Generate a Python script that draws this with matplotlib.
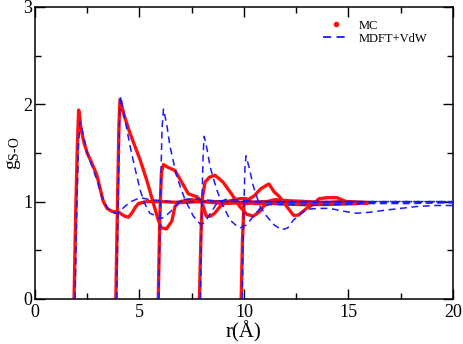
import matplotlib
matplotlib.use('Agg')
from matplotlib import pyplot as plt
from matplotlib.lines import Line2D
from matplotlib.ticker import MultipleLocator

plt.rcParams['font.family'] = ['Liberation Serif', 'DejaVu Serif']
plt.rcParams['mathtext.fontset'] = 'custom'
plt.rcParams['mathtext.rm'] = 'Liberation Serif'
plt.rcParams['mathtext.it'] = 'Liberation Serif:italic'

# MC curves (red), one per solute distance
mc_r = [
    [1.87, 1.95, 2.03, 2.09, 2.15, 2.2, 2.35, 2.5, 2.75, 2.95, 3.1, 3.27, 3.45, 3.67, 4.0, 4.3, 4.47,
     4.63, 4.8, 4.95, 5.35, 6.0, 7.0, 8.0, 9.0, 10.0, 11.0, 12.0, 13.0, 14.0],
    [3.87, 3.95, 4.02, 4.07, 4.26, 4.55, 4.8, 5.03, 5.35, 5.67, 5.9, 6.05, 6.3, 6.55, 6.7, 6.94, 7.5,
     8.0, 9.0, 10.0, 11.0, 12.0, 13.0, 14.0, 15.0],
    [5.9, 5.97, 6.05, 6.15, 6.38, 6.7, 7.02, 7.34, 7.74, 7.98, 8.2, 8.4, 8.6, 8.86, 9.18, 9.8, 10.1,
     10.5, 11.5, 12.5, 13.0, 14.0, 15.5],
    [7.87, 7.95, 8.02, 8.14, 8.35, 8.62, 9.0, 9.5, 9.8, 10.13, 10.45, 10.77, 11.1, 11.5, 12.0, 13.0,
     14.0, 15.0, 16.0],
    [9.87, 9.93, 10.0, 10.2, 10.5, 10.8, 11.1, 11.2, 11.45, 11.7, 12.05, 12.37, 12.6, 13.0, 13.3,
     13.6, 14.0, 14.45, 14.9, 15.4, 15.9],
]
mc_g = [
    [0.0, 0.9, 1.6, 1.94, 1.85, 1.75, 1.6, 1.5, 1.38, 1.28, 1.15, 1.0, 0.93, 0.9, 0.89, 0.85, 0.84,
     0.88, 0.94, 0.98, 1.0, 1.0, 0.99, 1.0, 1.0, 0.98, 0.99, 1.0, 0.98, 0.99],
    [0.0, 1.0, 1.8, 2.05, 1.89, 1.7, 1.56, 1.43, 1.22, 0.98, 0.81, 0.73, 0.72, 0.8, 0.95, 1.0, 1.02,
     1.0, 0.98, 0.99, 1.0, 0.99, 0.98, 0.99, 1.0],
    [0.0, 0.8, 1.3, 1.38, 1.35, 1.32, 1.2, 1.08, 1.05, 1.0, 0.85, 0.85, 0.88, 0.95, 1.0, 1.03, 1.03,
     0.98, 0.98, 0.97, 0.97, 0.97, 0.98],
    [0.0, 0.7, 1.05, 1.2, 1.25, 1.27, 1.2, 1.05, 0.95, 0.87, 0.85, 0.9, 1.0, 1.02, 1.01, 1.0, 0.99,
     1.0, 0.99],
    [0.0, 0.6, 0.96, 1.02, 1.06, 1.13, 1.17, 1.18, 1.1, 1.05, 0.95, 0.86, 0.86, 0.93, 0.97, 1.03,
     1.04, 1.04, 1.0, 0.99, 0.98],
]

# MDFT+VdW curves (blue dashed)
df_r = [
    [1.92, 2.0, 2.08, 2.15, 2.3, 2.5, 2.75, 3.0, 3.2, 3.43, 3.6, 3.83, 4.0, 4.3, 4.6, 5.03, 5.5,
     6.5, 8.0, 10.0, 12.0, 14.0, 16.0, 18.0, 20.0],
    [3.92, 3.98, 4.05, 4.1, 4.3, 4.55, 4.8, 5.03, 5.25, 5.5, 5.83, 5.95, 6.2, 6.5, 6.8, 7.1, 7.6,
     8.5, 10.0, 12.0, 14.0, 16.0, 18.0, 20.0],
    [5.92, 6.0, 6.08, 6.15, 6.3, 6.46, 6.78, 7.18, 7.58, 7.9, 8.1, 8.4, 8.7, 9.1, 9.5, 10.5, 12.0,
     14.0, 16.0, 18.0, 20.0],
    [7.92, 7.98, 8.05, 8.1, 8.2, 8.38, 8.7, 9.02, 9.34, 9.6, 9.82, 10.13, 10.45, 10.77, 11.2, 12.0,
     13.0, 14.5, 16.0, 18.0, 20.0],
    [9.92, 9.98, 10.05, 10.1, 10.25, 10.45, 10.77, 11.09, 11.45, 11.8, 12.1, 12.37, 12.7, 13.0,
     13.5, 14.1, 14.8, 15.4, 16.0, 16.7, 17.5, 18.3, 19.2, 20.0],
]
df_g = [
    [0.0, 0.9, 1.55, 1.82, 1.7, 1.5, 1.35, 1.2, 1.05, 0.95, 0.9, 0.88, 0.89, 0.95, 1.0, 1.04, 1.02,
     1.0, 1.0, 1.0, 1.0, 1.0, 1.0, 1.0, 1.0],
    [0.0, 1.0, 1.9, 2.08, 1.85, 1.57, 1.33, 1.12, 0.98, 0.88, 0.85, 0.82, 0.84, 0.9, 0.97, 1.02, 1.03,
     1.01, 1.0, 1.0, 1.0, 1.0, 1.0, 1.0],
    [0.0, 1.0, 1.75, 1.95, 1.8, 1.57, 1.26, 1.02, 0.85, 0.77, 0.78, 0.88, 0.98, 1.02, 1.02, 1.0, 0.99,
     0.99, 0.99, 0.99, 0.99],
    [0.0, 0.9, 1.5, 1.67, 1.58, 1.36, 1.12, 0.95, 0.81, 0.76, 0.73, 0.76, 0.85, 0.93, 0.97, 0.97,
     0.96, 0.97, 0.98, 0.98, 0.99],
    [0.0, 0.8, 1.35, 1.47, 1.35, 1.16, 0.95, 0.85, 0.76, 0.71, 0.73, 0.81, 0.87, 0.92, 0.93, 0.93,
     0.9, 0.88, 0.89, 0.91, 0.93, 0.95, 0.96, 0.96],
]

fig = plt.figure(figsize=(4.63, 3.44), dpi=100)
ax = fig.add_axes([0.0756, 0.131, 0.9024, 0.849])

for r, g in zip(mc_r, mc_g):
    ax.plot(r, g, '-', color='#ff1010', lw=2.4, solid_capstyle='round', zorder=2)
for r, g in zip(df_r, df_g):
    ax.plot(r, g, '--', color='#1a1aff', lw=1.1, dashes=(4.5, 3), zorder=3)

ax.set_xlim(0, 20)
ax.set_ylim(0, 3)
ax.xaxis.set_major_locator(MultipleLocator(5))
ax.xaxis.set_minor_locator(MultipleLocator(2.5))
ax.yaxis.set_major_locator(MultipleLocator(1))
ax.yaxis.set_minor_locator(MultipleLocator(0.5))
ax.tick_params(which='both', direction='in', top=True, right=True, labelsize=13, width=1.0)
ax.tick_params(which='major', length=7)
ax.tick_params(which='minor', length=4)
ax.tick_params(axis='y', pad=2)
for s in ax.spines.values():
    s.set_linewidth(1.1)

ax.set_xlabel('r(Å)', fontsize=15, labelpad=0)
ax.set_ylabel(r'$\mathrm{g}_{\mathrm{S}\text{-}\mathrm{O}}$', fontsize=14, labelpad=0)

handles = [
    Line2D([], [], color='#ff1010', marker='o', markersize=3, linestyle='none'),
    Line2D([], [], color='#1a1aff', linestyle='--', dashes=(4.5, 3), lw=1.3),
]
ax.legend(handles, ['MC', 'MDFT+VdW'], loc='upper right', frameon=False, fontsize=9,
          handlelength=2.0, handletextpad=0.8, labelspacing=0.1,
          bbox_to_anchor=(0.965, 0.995))

fig.savefig('out.png', dpi=100)
